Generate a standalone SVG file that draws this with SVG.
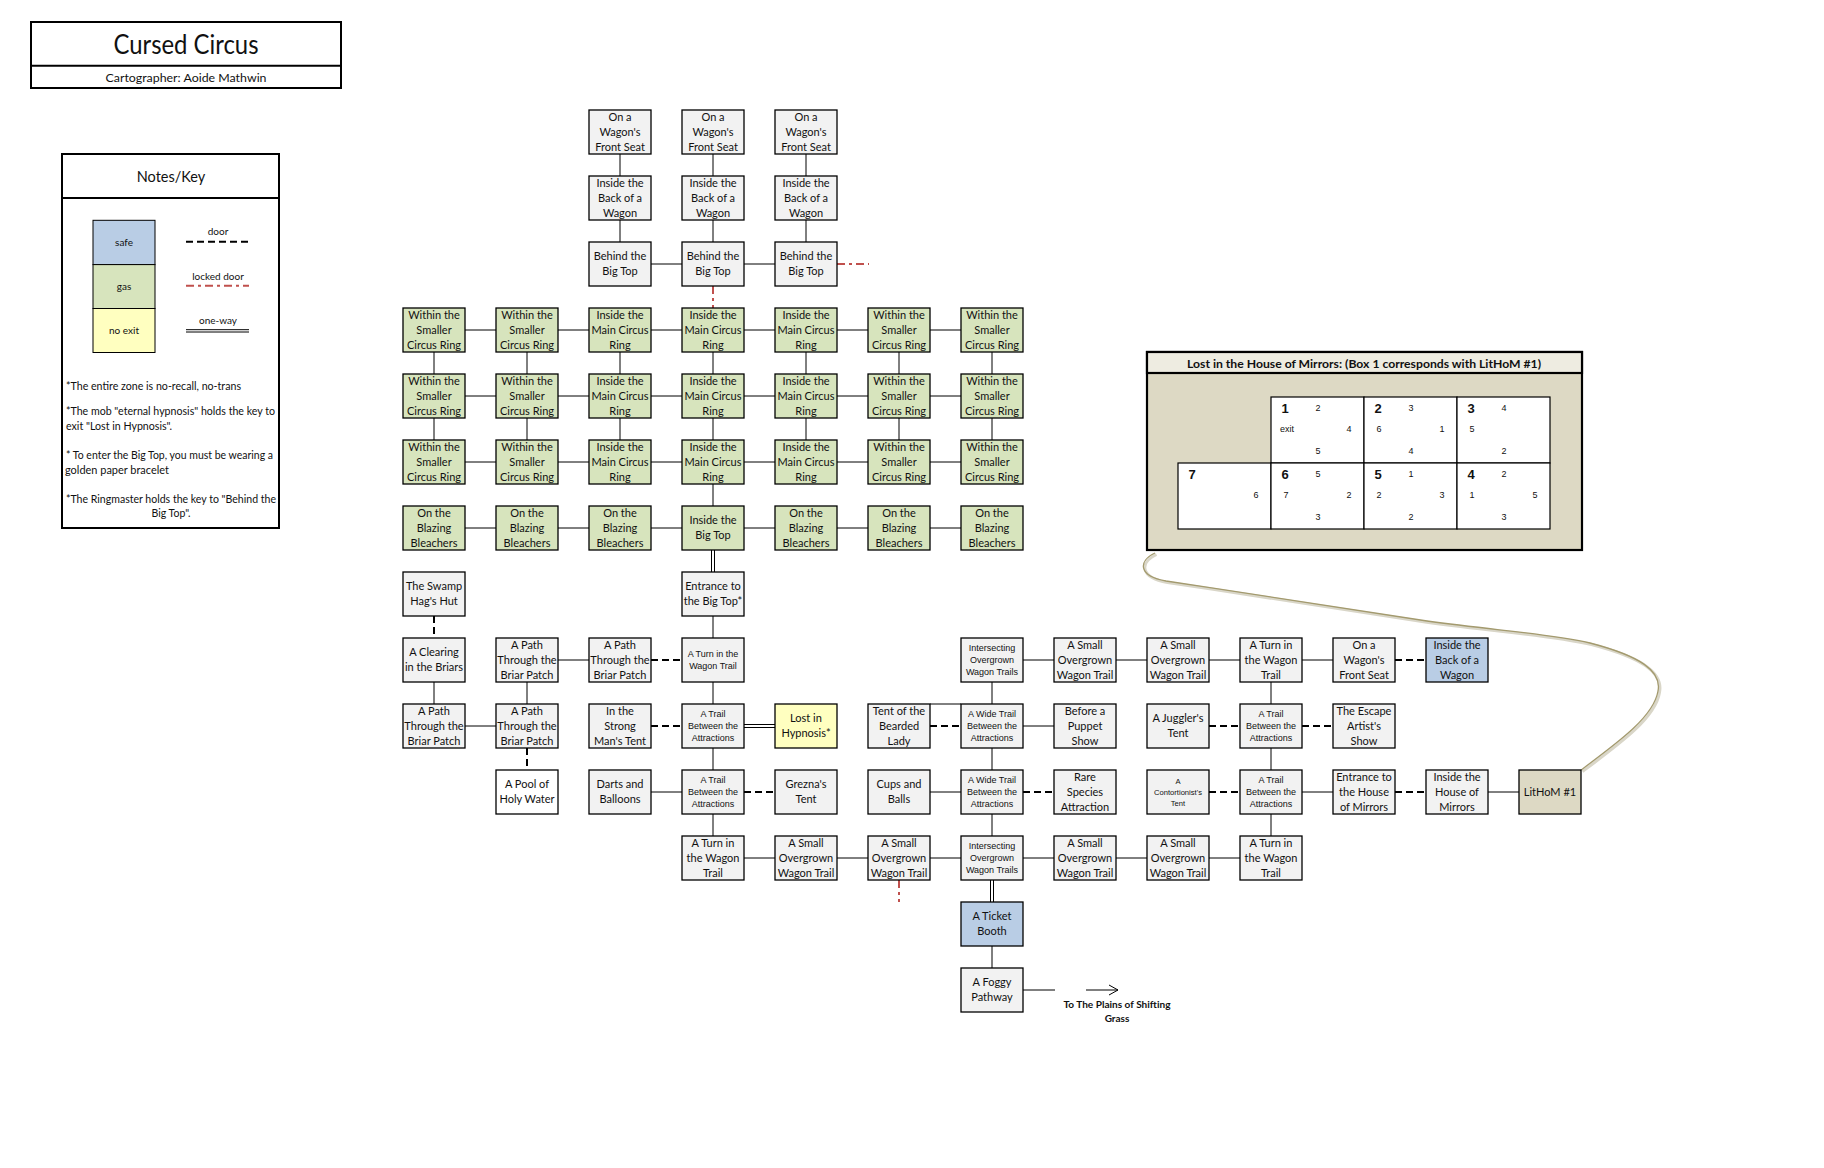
<svg xmlns="http://www.w3.org/2000/svg" width="1824" height="1168" viewBox="0 0 1824 1168">
<style>
  .bg{fill:#ffffff}
  .n rect{stroke:#000;stroke-width:1.3}
  .g{fill:#f2f2f2}
  .gr{fill:#d7e4bd}
  .bl{fill:#b9cde5}
  .ye{fill:#ffffc0}
  .tan{fill:#ddd9c4}
  .wh{fill:#ffffff}
  text{fill:#111;font-family:Lato,"Liberation Sans",sans-serif}
  .t{font-size:11px;text-anchor:middle}
  .s{font-family:"Liberation Sans",Arial,sans-serif;font-size:9px;text-anchor:middle}
  .xs{font-family:"Liberation Sans",Arial,sans-serif;font-size:7.6px;text-anchor:middle}
  .solid line,.solid path{stroke:#000;stroke-width:1;fill:none}
  .door{stroke:#000;stroke-width:2;stroke-dasharray:7 4;fill:none}
  .locked{stroke:#c0504d;stroke-width:2;stroke-dasharray:8 4 3 4;fill:none}
  .ow{stroke:#000;stroke-width:1;fill:none}
  .note{font-size:10.5px}
  .mm{font-family:"Liberation Sans",Arial,sans-serif;font-size:9px;text-anchor:middle}
  .big{font-family:"Liberation Sans",Arial,sans-serif;font-size:13px;font-weight:bold;text-anchor:middle}
</style>
<rect class="bg" x="0" y="0" width="1824" height="1168"/>

<!-- Title -->
<g id="title">
  <rect x="31" y="22" width="310" height="66" fill="#fff" stroke="#000" stroke-width="2"/>
  <line x1="31" y1="65.7" x2="341" y2="65.7" stroke="#000" stroke-width="2"/>
  <text x="186" y="54" font-size="26" text-anchor="middle" textLength="145" lengthAdjust="spacingAndGlyphs">Cursed Circus</text>
  <text x="186" y="82" font-size="11.5" text-anchor="middle" textLength="161" lengthAdjust="spacingAndGlyphs">Cartographer: Aoide Mathwin</text>
</g>

<!-- Notes / Key -->
<g id="key">
  <rect x="62" y="154" width="217" height="374" fill="#fff" stroke="#000" stroke-width="2"/>
  <line x1="62" y1="198" x2="279" y2="198" stroke="#000" stroke-width="2"/>
  <text x="171" y="182" font-size="14.5" text-anchor="middle">Notes/Key</text>
  <rect x="93" y="220.3" width="62" height="44.3" class="bl" stroke="#000" stroke-width="1"/>
  <rect x="93" y="264.6" width="62" height="43.9" class="gr" stroke="#000" stroke-width="1"/>
  <rect x="93" y="308.5" width="62" height="44" class="ye" stroke="#000" stroke-width="1"/>
  <text x="124" y="246" font-size="10" text-anchor="middle">safe</text>
  <text x="124" y="290" font-size="10" text-anchor="middle">gas</text>
  <text x="124" y="334" font-size="10" text-anchor="middle">no exit</text>
  <text x="218" y="235" font-size="10" text-anchor="middle">door</text>
  <line x1="186" y1="241.7" x2="249" y2="241.7" class="door" stroke-dasharray="2 3 7 3"/>
  <text x="218" y="279.5" font-size="10" text-anchor="middle">locked door</text>
  <line x1="186" y1="285.7" x2="249" y2="285.7" class="locked" stroke-dasharray="7 3"/>
  <text x="218" y="323.5" font-size="10" text-anchor="middle">one-way</text>
  <line x1="186" y1="329.7" x2="249" y2="329.7" class="ow"/>
  <line x1="186" y1="332" x2="249" y2="332" class="ow"/>
  <text class="note" x="66" y="389.5" textLength="175" lengthAdjust="spacingAndGlyphs">*The entire zone is no-recall, no-trans</text>
  <text class="note" x="66" y="414.5" textLength="209" lengthAdjust="spacingAndGlyphs">*The mob "eternal hypnosis" holds the key to</text>
  <text class="note" x="66" y="429.5" textLength="106" lengthAdjust="spacingAndGlyphs">exit "Lost in Hypnosis".</text>
  <text class="note" x="66" y="458.5" textLength="207" lengthAdjust="spacingAndGlyphs">* To enter the Big Top, you must be wearing a</text>
  <text class="note" x="65" y="473.5" textLength="104" lengthAdjust="spacingAndGlyphs">golden paper bracelet</text>
  <text class="note" x="66" y="502.5" textLength="210" lengthAdjust="spacingAndGlyphs">*The Ringmaster holds the key to "Behind the</text>
  <text class="note" x="171" y="517" text-anchor="middle">Big Top".</text>
</g>

<!-- Connectors -->
<g id="connectors">
  <g class="solid">
    <line x1="620" y1="154" x2="620" y2="176"/><line x1="713" y1="154" x2="713" y2="176"/><line x1="806" y1="154" x2="806" y2="176"/>
    <line x1="620" y1="220" x2="620" y2="242"/><line x1="713" y1="220" x2="713" y2="242"/><line x1="806" y1="220" x2="806" y2="242"/>
    <line x1="651" y1="264" x2="682" y2="264"/><line x1="744" y1="264" x2="775" y2="264"/>
    <path d="M465 330H496M558 330H589M651 330H682M744 330H775M837 330H868M930 330H961"/>
    <path d="M465 396H496M558 396H589M651 396H682M744 396H775M837 396H868M930 396H961"/>
    <path d="M465 462H496M558 462H589M651 462H682M744 462H775M837 462H868M930 462H961"/>
    <path d="M465 528H496M558 528H589M651 528H682M744 528H775M837 528H868M930 528H961"/>
    <path d="M434 352V374M527 352V374M620 352V374M713 352V374M806 352V374M899 352V374M992 352V374"/>
    <path d="M434 418V440M527 418V440M620 418V440M713 418V440M806 418V440M899 418V440M992 418V440"/>
    <path d="M713 484V506"/>
    <path d="M713 616V638"/>
    <path d="M558 660H589M1023 660H1054M1116 660H1147M1209 660H1240M1302 660H1333"/>
    <path d="M434 682V704M527 682V704M713 682V704M992 682V704M1271 682V704"/>
    <path d="M465 726H496M1023 726H1054M930 704H961"/>
    <path d="M713 748V770M992 748V770M1271 748V770"/>
    <path d="M651 792H682M930 792H961M1302 792H1333M1488 792H1519"/>
    <path d="M713 814V836M992 814V836M1271 814V836"/>
    <path d="M744 858H775M837 858H868M930 858H961M1023 858H1054M1116 858H1147M1209 858H1240"/>
    <path d="M992 946V968"/>
    <path d="M1023 990H1055"/>
    <path d="M1086 990H1118M1109 985L1118 990L1109 995"/>
  </g>
  <path class="door" d="M434 616V638M651 660H682M1395 660H1426M651 726H682M930 726H961M1209 726H1240M1302 726H1333M744 792H775M1023 792H1054M1209 792H1240M1395 792H1426"/>
  <path class="door" d="M527 748V770"/>
  <path class="locked" d="M713 286V308M837 264H869M899 880V902"/>
  <path class="ow" d="M711.5 550V572M714.5 550V572M744 724.5H775M744 727.5H775M990.5 880V902M993.5 880V902"/>
  <path d="M1155 553C1138 561 1138 576 1166 581C1260 595 1360 610 1427 621C1500 631 1545 633 1590 643C1640 656 1662 671 1658 691C1654 716 1620 741 1581 770" fill="none" stroke="#d9d6c8" stroke-width="3" transform="translate(1.5,1.5)"/>
  <path d="M1155 553C1138 561 1138 576 1166 581C1260 595 1360 610 1427 621C1500 631 1545 633 1590 643C1640 656 1662 671 1658 691C1654 716 1620 741 1581 770" fill="none" stroke="#a39a6e" stroke-width="1.3"/>
</g>

<!-- Nodes -->
<g id="n-r0c2" class="n"><rect x="589" y="110" width="62" height="44" class="g"/><text class="t"><tspan x="620" y="121">On a</tspan><tspan x="620" y="136">Wagon's</tspan><tspan x="620" y="151">Front Seat</tspan></text></g>
<g id="n-r0c3" class="n"><rect x="682" y="110" width="62" height="44" class="g"/><text class="t"><tspan x="713" y="121">On a</tspan><tspan x="713" y="136">Wagon's</tspan><tspan x="713" y="151">Front Seat</tspan></text></g>
<g id="n-r0c4" class="n"><rect x="775" y="110" width="62" height="44" class="g"/><text class="t"><tspan x="806" y="121">On a</tspan><tspan x="806" y="136">Wagon's</tspan><tspan x="806" y="151">Front Seat</tspan></text></g>

<g id="n-r1c2" class="n"><rect x="589" y="176" width="62" height="44" class="g"/><text class="t"><tspan x="620" y="187">Inside the</tspan><tspan x="620" y="202">Back of a</tspan><tspan x="620" y="217">Wagon</tspan></text></g>
<g id="n-r1c3" class="n"><rect x="682" y="176" width="62" height="44" class="g"/><text class="t"><tspan x="713" y="187">Inside the</tspan><tspan x="713" y="202">Back of a</tspan><tspan x="713" y="217">Wagon</tspan></text></g>
<g id="n-r1c4" class="n"><rect x="775" y="176" width="62" height="44" class="g"/><text class="t"><tspan x="806" y="187">Inside the</tspan><tspan x="806" y="202">Back of a</tspan><tspan x="806" y="217">Wagon</tspan></text></g>

<g id="n-r2c2" class="n"><rect x="589" y="242" width="62" height="44" class="g"/><text class="t"><tspan x="620" y="260">Behind the</tspan><tspan x="620" y="275">Big Top</tspan></text></g>
<g id="n-r2c3" class="n"><rect x="682" y="242" width="62" height="44" class="g"/><text class="t"><tspan x="713" y="260">Behind the</tspan><tspan x="713" y="275">Big Top</tspan></text></g>
<g id="n-r2c4" class="n"><rect x="775" y="242" width="62" height="44" class="g"/><text class="t"><tspan x="806" y="260">Behind the</tspan><tspan x="806" y="275">Big Top</tspan></text></g>

<g id="n-r3c0" class="n"><rect x="403" y="308" width="62" height="44" class="gr"/><text class="t"><tspan x="434" y="319">Within the</tspan><tspan x="434" y="334">Smaller</tspan><tspan x="434" y="349">Circus Ring</tspan></text></g>
<g id="n-r3c1" class="n"><rect x="496" y="308" width="62" height="44" class="gr"/><text class="t"><tspan x="527" y="319">Within the</tspan><tspan x="527" y="334">Smaller</tspan><tspan x="527" y="349">Circus Ring</tspan></text></g>
<g id="n-r3c2" class="n"><rect x="589" y="308" width="62" height="44" class="gr"/><text class="t"><tspan x="620" y="319">Inside the</tspan><tspan x="620" y="334">Main Circus</tspan><tspan x="620" y="349">Ring</tspan></text></g>
<g id="n-r3c3" class="n"><rect x="682" y="308" width="62" height="44" class="gr"/><text class="t"><tspan x="713" y="319">Inside the</tspan><tspan x="713" y="334">Main Circus</tspan><tspan x="713" y="349">Ring</tspan></text></g>
<g id="n-r3c4" class="n"><rect x="775" y="308" width="62" height="44" class="gr"/><text class="t"><tspan x="806" y="319">Inside the</tspan><tspan x="806" y="334">Main Circus</tspan><tspan x="806" y="349">Ring</tspan></text></g>
<g id="n-r3c5" class="n"><rect x="868" y="308" width="62" height="44" class="gr"/><text class="t"><tspan x="899" y="319">Within the</tspan><tspan x="899" y="334">Smaller</tspan><tspan x="899" y="349">Circus Ring</tspan></text></g>
<g id="n-r3c6" class="n"><rect x="961" y="308" width="62" height="44" class="gr"/><text class="t"><tspan x="992" y="319">Within the</tspan><tspan x="992" y="334">Smaller</tspan><tspan x="992" y="349">Circus Ring</tspan></text></g>

<g id="n-r4c0" class="n"><rect x="403" y="374" width="62" height="44" class="gr"/><text class="t"><tspan x="434" y="385">Within the</tspan><tspan x="434" y="400">Smaller</tspan><tspan x="434" y="415">Circus Ring</tspan></text></g>
<g id="n-r4c1" class="n"><rect x="496" y="374" width="62" height="44" class="gr"/><text class="t"><tspan x="527" y="385">Within the</tspan><tspan x="527" y="400">Smaller</tspan><tspan x="527" y="415">Circus Ring</tspan></text></g>
<g id="n-r4c2" class="n"><rect x="589" y="374" width="62" height="44" class="gr"/><text class="t"><tspan x="620" y="385">Inside the</tspan><tspan x="620" y="400">Main Circus</tspan><tspan x="620" y="415">Ring</tspan></text></g>
<g id="n-r4c3" class="n"><rect x="682" y="374" width="62" height="44" class="gr"/><text class="t"><tspan x="713" y="385">Inside the</tspan><tspan x="713" y="400">Main Circus</tspan><tspan x="713" y="415">Ring</tspan></text></g>
<g id="n-r4c4" class="n"><rect x="775" y="374" width="62" height="44" class="gr"/><text class="t"><tspan x="806" y="385">Inside the</tspan><tspan x="806" y="400">Main Circus</tspan><tspan x="806" y="415">Ring</tspan></text></g>
<g id="n-r4c5" class="n"><rect x="868" y="374" width="62" height="44" class="gr"/><text class="t"><tspan x="899" y="385">Within the</tspan><tspan x="899" y="400">Smaller</tspan><tspan x="899" y="415">Circus Ring</tspan></text></g>
<g id="n-r4c6" class="n"><rect x="961" y="374" width="62" height="44" class="gr"/><text class="t"><tspan x="992" y="385">Within the</tspan><tspan x="992" y="400">Smaller</tspan><tspan x="992" y="415">Circus Ring</tspan></text></g>

<g id="n-r5c0" class="n"><rect x="403" y="440" width="62" height="44" class="gr"/><text class="t"><tspan x="434" y="451">Within the</tspan><tspan x="434" y="466">Smaller</tspan><tspan x="434" y="481">Circus Ring</tspan></text></g>
<g id="n-r5c1" class="n"><rect x="496" y="440" width="62" height="44" class="gr"/><text class="t"><tspan x="527" y="451">Within the</tspan><tspan x="527" y="466">Smaller</tspan><tspan x="527" y="481">Circus Ring</tspan></text></g>
<g id="n-r5c2" class="n"><rect x="589" y="440" width="62" height="44" class="gr"/><text class="t"><tspan x="620" y="451">Inside the</tspan><tspan x="620" y="466">Main Circus</tspan><tspan x="620" y="481">Ring</tspan></text></g>
<g id="n-r5c3" class="n"><rect x="682" y="440" width="62" height="44" class="gr"/><text class="t"><tspan x="713" y="451">Inside the</tspan><tspan x="713" y="466">Main Circus</tspan><tspan x="713" y="481">Ring</tspan></text></g>
<g id="n-r5c4" class="n"><rect x="775" y="440" width="62" height="44" class="gr"/><text class="t"><tspan x="806" y="451">Inside the</tspan><tspan x="806" y="466">Main Circus</tspan><tspan x="806" y="481">Ring</tspan></text></g>
<g id="n-r5c5" class="n"><rect x="868" y="440" width="62" height="44" class="gr"/><text class="t"><tspan x="899" y="451">Within the</tspan><tspan x="899" y="466">Smaller</tspan><tspan x="899" y="481">Circus Ring</tspan></text></g>
<g id="n-r5c6" class="n"><rect x="961" y="440" width="62" height="44" class="gr"/><text class="t"><tspan x="992" y="451">Within the</tspan><tspan x="992" y="466">Smaller</tspan><tspan x="992" y="481">Circus Ring</tspan></text></g>

<g id="n-r6c0" class="n"><rect x="403" y="506" width="62" height="44" class="gr"/><text class="t"><tspan x="434" y="517">On the</tspan><tspan x="434" y="532">Blazing</tspan><tspan x="434" y="547">Bleachers</tspan></text></g>
<g id="n-r6c1" class="n"><rect x="496" y="506" width="62" height="44" class="gr"/><text class="t"><tspan x="527" y="517">On the</tspan><tspan x="527" y="532">Blazing</tspan><tspan x="527" y="547">Bleachers</tspan></text></g>
<g id="n-r6c2" class="n"><rect x="589" y="506" width="62" height="44" class="gr"/><text class="t"><tspan x="620" y="517">On the</tspan><tspan x="620" y="532">Blazing</tspan><tspan x="620" y="547">Bleachers</tspan></text></g>
<g id="n-r6c3" class="n"><rect x="682" y="506" width="62" height="44" class="gr"/><text class="t"><tspan x="713" y="524">Inside the</tspan><tspan x="713" y="539">Big Top</tspan></text></g>
<g id="n-r6c4" class="n"><rect x="775" y="506" width="62" height="44" class="gr"/><text class="t"><tspan x="806" y="517">On the</tspan><tspan x="806" y="532">Blazing</tspan><tspan x="806" y="547">Bleachers</tspan></text></g>
<g id="n-r6c5" class="n"><rect x="868" y="506" width="62" height="44" class="gr"/><text class="t"><tspan x="899" y="517">On the</tspan><tspan x="899" y="532">Blazing</tspan><tspan x="899" y="547">Bleachers</tspan></text></g>
<g id="n-r6c6" class="n"><rect x="961" y="506" width="62" height="44" class="gr"/><text class="t"><tspan x="992" y="517">On the</tspan><tspan x="992" y="532">Blazing</tspan><tspan x="992" y="547">Bleachers</tspan></text></g>

<g id="n-r7c0" class="n"><rect x="403" y="572" width="62" height="44" class="g"/><text class="t"><tspan x="434" y="590">The Swamp</tspan><tspan x="434" y="605">Hag's Hut</tspan></text></g>
<g id="n-r7c3" class="n"><rect x="682" y="572" width="62" height="44" class="g"/><text class="t"><tspan x="713" y="590">Entrance to</tspan><tspan x="713" y="605">the Big Top*</tspan></text></g>

<g id="n-r8c0" class="n"><rect x="403" y="638" width="62" height="44" class="g"/><text class="t"><tspan x="434" y="656">A Clearing</tspan><tspan x="434" y="671">in the Briars</tspan></text></g>
<g id="n-r8c1" class="n"><rect x="496" y="638" width="62" height="44" class="g"/><text class="t"><tspan x="527" y="649">A Path</tspan><tspan x="527" y="664">Through the</tspan><tspan x="527" y="679">Briar Patch</tspan></text></g>
<g id="n-r8c2" class="n"><rect x="589" y="638" width="62" height="44" class="g"/><text class="t"><tspan x="620" y="649">A Path</tspan><tspan x="620" y="664">Through the</tspan><tspan x="620" y="679">Briar Patch</tspan></text></g>
<g id="n-r8c3" class="n"><rect x="682" y="638" width="62" height="44" class="g"/><text class="s"><tspan x="713" y="656.5">A Turn in the</tspan><tspan x="713" y="668.5">Wagon Trail</tspan></text></g>
<g id="n-r8c6" class="n"><rect x="961" y="638" width="62" height="44" class="g"/><text class="s"><tspan x="992" y="650.5">Intersecting</tspan><tspan x="992" y="662.5">Overgrown</tspan><tspan x="992" y="674.5">Wagon Trails</tspan></text></g>
<g id="n-r8c7" class="n"><rect x="1054" y="638" width="62" height="44" class="g"/><text class="t"><tspan x="1085" y="649">A Small</tspan><tspan x="1085" y="664">Overgrown</tspan><tspan x="1085" y="679">Wagon Trail</tspan></text></g>
<g id="n-r8c8" class="n"><rect x="1147" y="638" width="62" height="44" class="g"/><text class="t"><tspan x="1178" y="649">A Small</tspan><tspan x="1178" y="664">Overgrown</tspan><tspan x="1178" y="679">Wagon Trail</tspan></text></g>
<g id="n-r8c9" class="n"><rect x="1240" y="638" width="62" height="44" class="g"/><text class="t"><tspan x="1271" y="649">A Turn in</tspan><tspan x="1271" y="664">the Wagon</tspan><tspan x="1271" y="679">Trail</tspan></text></g>
<g id="n-r8c10" class="n"><rect x="1333" y="638" width="62" height="44" class="g"/><text class="t"><tspan x="1364" y="649">On a</tspan><tspan x="1364" y="664">Wagon's</tspan><tspan x="1364" y="679">Front Seat</tspan></text></g>
<g id="n-r8c11" class="n"><rect x="1426" y="638" width="62" height="44" class="bl"/><text class="t"><tspan x="1457" y="649">Inside the</tspan><tspan x="1457" y="664">Back of a</tspan><tspan x="1457" y="679">Wagon</tspan></text></g>

<g id="n-r9c0" class="n"><rect x="403" y="704" width="62" height="44" class="g"/><text class="t"><tspan x="434" y="715">A Path</tspan><tspan x="434" y="730">Through the</tspan><tspan x="434" y="745">Briar Patch</tspan></text></g>
<g id="n-r9c1" class="n"><rect x="496" y="704" width="62" height="44" class="g"/><text class="t"><tspan x="527" y="715">A Path</tspan><tspan x="527" y="730">Through the</tspan><tspan x="527" y="745">Briar Patch</tspan></text></g>
<g id="n-r9c2" class="n"><rect x="589" y="704" width="62" height="44" class="g"/><text class="t"><tspan x="620" y="715">In the</tspan><tspan x="620" y="730">Strong</tspan><tspan x="620" y="745">Man's Tent</tspan></text></g>
<g id="n-r9c3" class="n"><rect x="682" y="704" width="62" height="44" class="g"/><text class="s"><tspan x="713" y="716.5">A Trail</tspan><tspan x="713" y="728.5">Between the</tspan><tspan x="713" y="740.5">Attractions</tspan></text></g>
<g id="n-r9c4" class="n"><rect x="775" y="704" width="62" height="44" class="ye"/><text class="t"><tspan x="806" y="722">Lost in</tspan><tspan x="806" y="737">Hypnosis*</tspan></text></g>
<g id="n-r9c5" class="n"><rect x="868" y="704" width="62" height="44" class="g"/><text class="t"><tspan x="899" y="715">Tent of the</tspan><tspan x="899" y="730">Bearded</tspan><tspan x="899" y="745">Lady</tspan></text></g>
<g id="n-r9c6" class="n"><rect x="961" y="704" width="62" height="44" class="g"/><text class="s"><tspan x="992" y="716.5">A Wide Trail</tspan><tspan x="992" y="728.5">Between the</tspan><tspan x="992" y="740.5">Attractions</tspan></text></g>
<g id="n-r9c7" class="n"><rect x="1054" y="704" width="62" height="44" class="g"/><text class="t"><tspan x="1085" y="715">Before a</tspan><tspan x="1085" y="730">Puppet</tspan><tspan x="1085" y="745">Show</tspan></text></g>
<g id="n-r9c8" class="n"><rect x="1147" y="704" width="62" height="44" class="g"/><text class="t"><tspan x="1178" y="722">A Juggler's</tspan><tspan x="1178" y="737">Tent</tspan></text></g>
<g id="n-r9c9" class="n"><rect x="1240" y="704" width="62" height="44" class="g"/><text class="s"><tspan x="1271" y="716.5">A Trail</tspan><tspan x="1271" y="728.5">Between the</tspan><tspan x="1271" y="740.5">Attractions</tspan></text></g>
<g id="n-r9c10" class="n"><rect x="1333" y="704" width="62" height="44" class="g"/><text class="t"><tspan x="1364" y="715">The Escape</tspan><tspan x="1364" y="730">Artist's</tspan><tspan x="1364" y="745">Show</tspan></text></g>

<g id="n-r10c1" class="n"><rect x="496" y="770" width="62" height="44" class="wh"/><text class="t"><tspan x="527" y="788">A Pool of</tspan><tspan x="527" y="803">Holy Water</tspan></text></g>
<g id="n-r10c2" class="n"><rect x="589" y="770" width="62" height="44" class="g"/><text class="t"><tspan x="620" y="788">Darts and</tspan><tspan x="620" y="803">Balloons</tspan></text></g>
<g id="n-r10c3" class="n"><rect x="682" y="770" width="62" height="44" class="g"/><text class="s"><tspan x="713" y="782.5">A Trail</tspan><tspan x="713" y="794.5">Between the</tspan><tspan x="713" y="806.5">Attractions</tspan></text></g>
<g id="n-r10c4" class="n"><rect x="775" y="770" width="62" height="44" class="g"/><text class="t"><tspan x="806" y="788">Grezna's</tspan><tspan x="806" y="803">Tent</tspan></text></g>
<g id="n-r10c5" class="n"><rect x="868" y="770" width="62" height="44" class="g"/><text class="t"><tspan x="899" y="788">Cups and</tspan><tspan x="899" y="803">Balls</tspan></text></g>
<g id="n-r10c6" class="n"><rect x="961" y="770" width="62" height="44" class="g"/><text class="s"><tspan x="992" y="782.5">A Wide Trail</tspan><tspan x="992" y="794.5">Between the</tspan><tspan x="992" y="806.5">Attractions</tspan></text></g>
<g id="n-r10c7" class="n"><rect x="1054" y="770" width="62" height="44" class="g"/><text class="t"><tspan x="1085" y="781">Rare</tspan><tspan x="1085" y="796">Species</tspan><tspan x="1085" y="811">Attraction</tspan></text></g>
<g id="n-r10c8" class="n"><rect x="1147" y="770" width="62" height="44" class="g"/><text class="xs"><tspan x="1178" y="783.5">A</tspan><tspan x="1178" y="795">Contortionist's</tspan><tspan x="1178" y="805.5">Tent</tspan></text></g>
<g id="n-r10c9" class="n"><rect x="1240" y="770" width="62" height="44" class="g"/><text class="s"><tspan x="1271" y="782.5">A Trail</tspan><tspan x="1271" y="794.5">Between the</tspan><tspan x="1271" y="806.5">Attractions</tspan></text></g>
<g id="n-r10c10" class="n"><rect x="1333" y="770" width="62" height="44" class="g"/><text class="t"><tspan x="1364" y="781">Entrance to</tspan><tspan x="1364" y="796">the House</tspan><tspan x="1364" y="811">of Mirrors</tspan></text></g>
<g id="n-r10c11" class="n"><rect x="1426" y="770" width="62" height="44" class="g"/><text class="t"><tspan x="1457" y="781">Inside the</tspan><tspan x="1457" y="796">House of</tspan><tspan x="1457" y="811">Mirrors</tspan></text></g>
<g id="n-r10c12" class="n"><rect x="1519" y="770" width="62" height="44" class="tan"/><text class="t"><tspan x="1550" y="796">LitHoM #1</tspan></text></g>

<g id="n-r11c3" class="n"><rect x="682" y="836" width="62" height="44" class="g"/><text class="t"><tspan x="713" y="847">A Turn in</tspan><tspan x="713" y="862">the Wagon</tspan><tspan x="713" y="877">Trail</tspan></text></g>
<g id="n-r11c4" class="n"><rect x="775" y="836" width="62" height="44" class="g"/><text class="t"><tspan x="806" y="847">A Small</tspan><tspan x="806" y="862">Overgrown</tspan><tspan x="806" y="877">Wagon Trail</tspan></text></g>
<g id="n-r11c5" class="n"><rect x="868" y="836" width="62" height="44" class="g"/><text class="t"><tspan x="899" y="847">A Small</tspan><tspan x="899" y="862">Overgrown</tspan><tspan x="899" y="877">Wagon Trail</tspan></text></g>
<g id="n-r11c6" class="n"><rect x="961" y="836" width="62" height="44" class="g"/><text class="s"><tspan x="992" y="848.5">Intersecting</tspan><tspan x="992" y="860.5">Overgrown</tspan><tspan x="992" y="872.5">Wagon Trails</tspan></text></g>
<g id="n-r11c7" class="n"><rect x="1054" y="836" width="62" height="44" class="g"/><text class="t"><tspan x="1085" y="847">A Small</tspan><tspan x="1085" y="862">Overgrown</tspan><tspan x="1085" y="877">Wagon Trail</tspan></text></g>
<g id="n-r11c8" class="n"><rect x="1147" y="836" width="62" height="44" class="g"/><text class="t"><tspan x="1178" y="847">A Small</tspan><tspan x="1178" y="862">Overgrown</tspan><tspan x="1178" y="877">Wagon Trail</tspan></text></g>
<g id="n-r11c9" class="n"><rect x="1240" y="836" width="62" height="44" class="g"/><text class="t"><tspan x="1271" y="847">A Turn in</tspan><tspan x="1271" y="862">the Wagon</tspan><tspan x="1271" y="877">Trail</tspan></text></g>

<g id="n-r12c6" class="n"><rect x="961" y="902" width="62" height="44" class="bl"/><text class="t"><tspan x="992" y="920">A Ticket</tspan><tspan x="992" y="935">Booth</tspan></text></g>
<g id="n-r13c6" class="n"><rect x="961" y="968" width="62" height="44" class="g"/><text class="t"><tspan x="992" y="986">A Foggy</tspan><tspan x="992" y="1001">Pathway</tspan></text></g>

<g id="exit-label">
  <text x="1117" y="1008" font-size="10" font-weight="bold" text-anchor="middle" textLength="107" lengthAdjust="spacingAndGlyphs">To The Plains of Shifting</text>
  <text x="1117" y="1022" font-size="10" font-weight="bold" text-anchor="middle">Grass</text>
</g>

<g id="mirrors">
  <rect x="1147" y="352" width="435" height="198" fill="#ddd9c4" stroke="#000" stroke-width="2.2"/>
  <rect x="1147" y="352" width="435" height="21" fill="#eeece1" stroke="#000" stroke-width="2.2"/>
  <text x="1364" y="368" font-size="11" font-weight="bold" text-anchor="middle" textLength="354" lengthAdjust="spacingAndGlyphs">Lost in the House of Mirrors: (Box 1 corresponds with LitHoM #1)</text>
  <g fill="#fff" stroke="#000" stroke-width="1.2">
    <rect x="1271" y="397" width="93" height="66"/>
    <rect x="1364" y="397" width="93" height="66"/>
    <rect x="1457" y="397" width="93" height="66"/>
    <rect x="1178" y="463" width="93" height="66"/>
    <rect x="1271" y="463" width="93" height="66"/>
    <rect x="1364" y="463" width="93" height="66"/>
    <rect x="1457" y="463" width="93" height="66"/>
  </g>
  <text class="big" x="1285" y="413">1</text>
  <text class="mm" x="1318" y="411">2</text>
  <text class="mm" x="1287" y="432">exit</text>
  <text class="mm" x="1349" y="432">4</text>
  <text class="mm" x="1318" y="454">5</text>
  <text class="big" x="1378" y="413">2</text>
  <text class="mm" x="1411" y="411">3</text>
  <text class="mm" x="1379" y="432">6</text>
  <text class="mm" x="1442" y="432">1</text>
  <text class="mm" x="1411" y="454">4</text>
  <text class="big" x="1471" y="413">3</text>
  <text class="mm" x="1504" y="411">4</text>
  <text class="mm" x="1472" y="432">5</text>
  <text class="mm" x="1504" y="454">2</text>
  <text class="big" x="1192" y="479">7</text>
  <text class="mm" x="1256" y="498">6</text>
  <text class="big" x="1285" y="479">6</text>
  <text class="mm" x="1318" y="477">5</text>
  <text class="mm" x="1286" y="498">7</text>
  <text class="mm" x="1349" y="498">2</text>
  <text class="mm" x="1318" y="520">3</text>
  <text class="big" x="1378" y="479">5</text>
  <text class="mm" x="1411" y="477">1</text>
  <text class="mm" x="1379" y="498">2</text>
  <text class="mm" x="1442" y="498">3</text>
  <text class="mm" x="1411" y="520">2</text>
  <text class="big" x="1471" y="479">4</text>
  <text class="mm" x="1504" y="477">2</text>
  <text class="mm" x="1472" y="498">1</text>
  <text class="mm" x="1535" y="498">5</text>
  <text class="mm" x="1504" y="520">3</text>
</g>
</svg>
